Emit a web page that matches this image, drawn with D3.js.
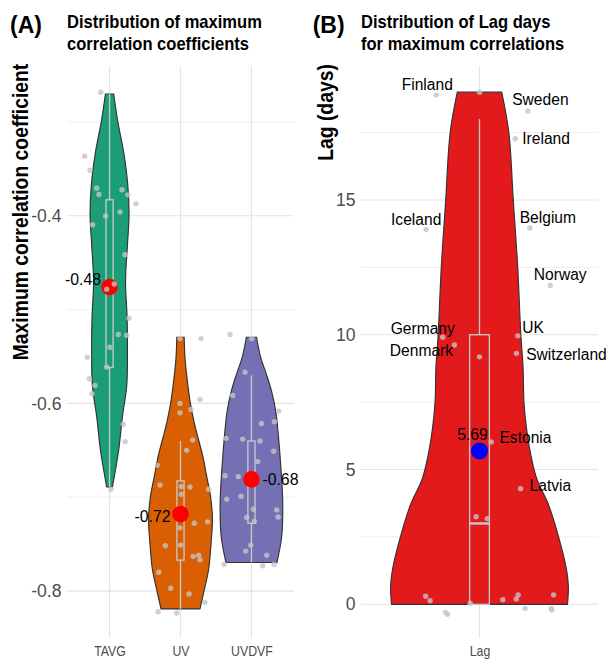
<!DOCTYPE html>
<html>
<head>
<meta charset="utf-8">
<script src="https://cdn.jsdelivr.net/npm/d3@7"></script>
<style>
  html, body { margin: 0; padding: 0; background: #fff; }
  svg { display: block; font-family: 'Liberation Sans', Arial, sans-serif; }
</style>
</head>
<body>
<svg id="chart" width="610" height="661"></svg>
<script>
// ---- data ----
const corrGroups = ['TAVG', 'UV', 'UVDVF'];
const corrTicks = [-0.8, -0.6, -0.4];
const corrMinorTicks = [-0.7, -0.5, -0.3];
const lagTicks = [0, 5, 10, 15];
const lagMinorTicks = [2.5, 7.5, 12.5, 17.5];

// violin outlines: [value, relative half width]
const tavgDensity = [[-0.2702, 0.13], [-0.30, 0.26], [-0.332, 0.44], [-0.367, 0.57], [-0.399, 0.61],
  [-0.431, 0.56], [-0.459, 0.51], [-0.473, 0.50], [-0.509, 0.55], [-0.544, 0.56], [-0.58, 0.54],
  [-0.615, 0.40], [-0.651, 0.28], [-0.689, 0.09]];
const uvDensity = [[-0.5295, 0.115], [-0.551, 0.14], [-0.569, 0.19], [-0.60, 0.31], [-0.622, 0.44],
  [-0.658, 0.71], [-0.676, 0.81], [-0.699, 0.94], [-0.723, 1.0], [-0.748, 0.96], [-0.777, 0.88],
  [-0.798, 0.75], [-0.819, 0.61]];
const uvdvfDensity = [[-0.5295, 0.16], [-0.551, 0.29], [-0.569, 0.47], [-0.587, 0.63], [-0.608, 0.76],
  [-0.633, 0.84], [-0.672, 0.93], [-0.706, 0.98], [-0.741, 0.95], [-0.7695, 0.80]];
const lagDensity = [[19.0, 0.25], [17.5, 0.33], [15, 0.38], [12.5, 0.43], [10, 0.465], [8.8, 0.49],
  [7.5, 0.50], [6.5, 0.53], [5.5, 0.58], [4.6, 0.65], [3.75, 0.77], [2.5, 0.89], [1.27, 0.98],
  [0.65, 1.0], [0, 0.99]];

// boxplot stats: [lower whisker, q1, median, q3, upper whisker]
const corrBoxes = [[-0.689, -0.5617, -0.47, -0.383, -0.270],
                   [-0.819, -0.767, -0.722, -0.6826, -0.640],
                   [-0.7695, -0.7277, -0.68, -0.640, -0.570]];
const lagBox = [0, 0, 3, 10, 18];

const corrMeans = [-0.476, -0.718, -0.681];
const lagMean = 5.69;

// jittered points: values and horizontal jitter (category units)
const tavgValues = [-0.2684, -0.3365, -0.3518, -0.3706, -0.3773, -0.3723, -0.3777, -0.3872, -0.3961,
  -0.4003, -0.4096, -0.4415, -0.4784, -0.4727, -0.5093, -0.5266, -0.5273, -0.5401, -0.5507, -0.5613,
  -0.5737, -0.5809, -0.5897, -0.6223, -0.6407, -0.6915];
const tavgJitter = [-0.125, -0.351, -0.276, -0.182, -0.149, 0.175, 0.259, 0.372, 0.147, -0.055, -0.238,
  0.217, -0.041, 0.066, 0.273, 0.123, 0.241, 0.006, -0.314, -0.041, -0.286, -0.206, -0.248, 0.193,
  0.221, 0.02];
const uvValues = [-0.5309, -0.5309, -0.600, -0.6099, -0.6064, -0.5957, -0.639, -0.650, -0.666, -0.687,
  -0.6886, -0.689, -0.6968, -0.6915, -0.7277, -0.7262, -0.7326, -0.7517, -0.751, -0.763, -0.7617,
  -0.7667, -0.780, -0.797, -0.803, -0.812, -0.822, -0.8234];
const uvJitter = [-0.007, 0.289, -0.007, -0.007, 0.148, 0.275, 0.172, 0.087, -0.327, -0.289, 0.011,
  0.134, 0.011, 0.398, 0.195, 0.383, -0.007, -0.214, 0.003, 0.18, 0.257, 0.275, -0.307, -0.138, 0.12,
  0.345, -0.317, -0.054];
const uvdvfValues = [-0.5266, -0.5309, -0.5667, -0.5915, -0.6082, -0.6213, -0.6195, -0.6372, -0.638,
  -0.640, -0.651, -0.662, -0.677, -0.678, -0.702, -0.699, -0.7128, -0.7135, -0.721, -0.7216, -0.7259,
  -0.751, -0.7574, -0.7617, -0.7716, -0.773, -0.7716];
const uvdvfJitter = [-0.302, 0.004, -0.09, -0.264, 0.385, 0.14, 0.323, -0.358, -0.123, 0.121, 0.314,
  0.089, -0.372, -0.185, -0.348, -0.147, 0.027, 0.357, 0.375, -0.066, 0.041, -0.01, -0.08, 0.216,
  -0.386, 0.159, 0.319];

const lagCountries = ['Finland', '', 'Sweden', 'Ireland', 'Iceland', 'Belgium', 'Norway', 'Germany',
  'Denmark', 'UK', 'Switzerland', '', 'Estonia', 'Latvia', '', '', '', '', '', '', '', '', '', '', '', '', '', ''];
const lagValues = [18.89, 19.0, 18.3, 17.27, 13.9, 13.96, 11.83, 9.91, 9.62, 9.96, 9.31, 9.18, 6.02, 4.29,
  3.25, 3.18, 0.3, 0.13, -0.3, -0.37, 0.04, 0.17, 0.2, 0.35, -0.15, -0.15, -0.21, 0.35];
const lagJitter = [-0.219, 0, 0.245, 0.181, -0.27, 0.255, 0.358, -0.186, -0.127, 0.194, 0.187, 0, 0.059,
  0.208, -0.017, 0.039, -0.273, -0.25, -0.172, -0.162, -0.047, 0.118, 0.186, 0.196, 0.231, 0.363, 0.366, 0.375];

// ---- layout / style ----
const fills = ['#1b9e77', '#d95f02', '#7570b3'];
const lagFill = '#e31a1c';
const gridColor = '#e3e3e3';
const boxColor = '#cbcbcb';
const pointColor = '#c4c4c4';
const panelTop = 66, panelBottom = 638;

// label placement relative to point (ggrepel-like)
const lagLabelLayout = {
  Finland: [-9, -5, 'middle'], Sweden: [12.5, -6, 'middle'], Ireland: [7, 5.3, 'start'],
  Iceland: [-10, -4.3, 'middle'], Belgium: [18, -5.3, 'middle'], Norway: [10, -5.7, 'middle'],
  Germany: [-20, -3.3, 'middle'], Denmark: [-33, 10.7, 'middle'], UK: [4.4, -3, 'start'],
  Switzerland: [9.7, 6.3, 'start'], Estonia: [8.3, 1, 'start'], Latvia: [9, 2, 'start']
};
const meanLabelLayout = [[-8.5, -2, 'end'], [-10, 8, 'end'], [11, 6, 'start']];

const svg = d3.select('#chart');

const drawGrid = (g, x, y, majors, minors, x0, x1) => {
  g.selectAll('line.minor').data(minors).enter().append('line')
    .attr('x1', x0).attr('x2', x1).attr('y1', d => y(d)).attr('y2', d => y(d))
    .attr('stroke', gridColor).attr('stroke-width', 0.6);
  g.selectAll('line.major').data(majors).enter().append('line')
    .attr('x1', x0).attr('x2', x1).attr('y1', d => y(d)).attr('y2', d => y(d))
    .attr('stroke', gridColor).attr('stroke-width', 1.1);
  g.selectAll('line.vgrid').data(x.domain()).enter().append('line')
    .attr('x1', d => x(d)).attr('x2', d => x(d)).attr('y1', panelTop).attr('y2', panelBottom)
    .attr('stroke', gridColor).attr('stroke-width', 1.1);
};

const drawAxes = (g, x, y, ticks, fmt, x0) => {
  const yAxis = g.append('g').attr('transform', `translate(${x0},0)`)
    .call(d3.axisLeft(y).tickValues(ticks).tickSize(0).tickPadding(5.5).tickFormat(fmt));
  yAxis.select('.domain').remove();
  yAxis.selectAll('text').attr('font-size', 17.6).attr('fill', '#4d4d4d')
    .attr('font-family', "'Liberation Sans', Arial, sans-serif");
  const xAxis = g.append('g').attr('transform', `translate(0,${panelBottom})`)
    .call(d3.axisBottom(x).tickSize(0).tickPadding(8.5));
  xAxis.select('.domain').remove();
  // slightly condensed labels, as in the reference
  xAxis.selectAll('.tick text').attr('font-size', 14).attr('fill', '#4d4d4d')
    .attr('font-family', "'Liberation Sans', Arial, sans-serif")
    .attr('transform', 'scale(0.88,1)');
};

const violinArea = (y, cx, half) => d3.area()
  .curve(d3.curveCatmullRom.alpha(0.5))
  .y(d => y(d[0]))
  .x0(d => cx - d[1] * half)
  .x1(d => cx + d[1] * half);

const drawBox = (g, y, cx, halfBox, stats) => {
  const [lo, q1, med, q3, hi] = stats;
  g.append('line').attr('x1', cx).attr('x2', cx).attr('y1', y(hi)).attr('y2', y(q3))
    .attr('stroke', boxColor).attr('stroke-width', 1.3);
  g.append('line').attr('x1', cx).attr('x2', cx).attr('y1', y(q1)).attr('y2', y(lo))
    .attr('stroke', boxColor).attr('stroke-width', 1.3);
  g.append('rect').attr('x', cx - halfBox).attr('width', halfBox * 2)
    .attr('y', y(q3)).attr('height', y(q1) - y(q3))
    .attr('fill', 'none').attr('stroke', boxColor).attr('stroke-width', 1.3);
  g.append('line').attr('x1', cx - halfBox).attr('x2', cx + halfBox).attr('y1', y(med)).attr('y2', y(med))
    .attr('stroke', boxColor).attr('stroke-width', 2.4);
};

const drawPoints = (g, y, cx, step, values, jitter) => {
  g.selectAll(null).data(values).enter().append('circle')
    .attr('cx', (d, i) => cx + jitter[i] * step)
    .attr('cy', d => y(d))
    .attr('r', 2.7)
    .attr('fill', pointColor)
    .attr('opacity', 0.8);
};

const boldText = (x, y, text, size, rotate, squeeze) => {
  const g = svg.append('g')
    .attr('transform', `translate(${x},${y})${rotate ? ' rotate(-90)' : ''} scale(${squeeze},1)`);
  g.append('text').attr('font-size', size).attr('font-weight', 'bold').attr('fill', '#000')
    .attr('text-anchor', rotate ? 'middle' : 'start').text(text);
};

// ---- panel A ----
const xA = d3.scalePoint().domain(corrGroups).range([67, 294]).padding(0.6);
const yA = d3.scaleLinear().domain([-0.85, -0.2404]).range([panelBottom, panelTop]);
const stepA = xA.step();
const gA = svg.append('g');
drawGrid(gA, xA, yA, corrTicks, corrMinorTicks, 67, 294);
drawAxes(gA, xA, yA, corrTicks, d => d.toFixed(1), 67);

const corrDensities = [tavgDensity, uvDensity, uvdvfDensity];
const corrValues = [tavgValues, uvValues, uvdvfValues];
const corrJitter = [tavgJitter, uvJitter, uvdvfJitter];

corrGroups.forEach((grp, i) => {
  const cx = xA(grp);
  gA.append('path').datum(corrDensities[i])
    .attr('d', violinArea(yA, cx, stepA * 0.45))
    .attr('fill', fills[i]).attr('stroke', '#333').attr('stroke-width', 1.15);
  drawBox(gA, yA, cx, stepA * 0.05, corrBoxes[i]);
});
corrGroups.forEach((grp, i) => {
  const cx = xA(grp);
  gA.append('circle').attr('cx', cx).attr('cy', yA(corrMeans[i])).attr('r', 8.3).attr('fill', '#ff0000');
  drawPoints(gA, yA, cx, stepA, corrValues[i], corrJitter[i]);
  const [dx, dy, anchor] = meanLabelLayout[i];
  gA.append('text').attr('x', cx + dx).attr('y', yA(corrMeans[i]) + dy)
    .attr('text-anchor', anchor).attr('font-size', 15.8).attr('fill', '#000')
    .text(corrMeans[i].toFixed(2));
});

// ---- panel B ----
const xB = d3.scalePoint().domain(['Lag']).range([361, 598]).padding(0.6);
const yB = d3.scaleLinear().domain([-1.25, 19.97]).range([panelBottom, panelTop]);
const stepB = xB.step();
const gB = svg.append('g');
drawGrid(gB, xB, yB, lagTicks, lagMinorTicks, 361, 598);
drawAxes(gB, xB, yB, lagTicks, d => String(d), 361);

const cxB = xB('Lag');
gB.append('path').datum(lagDensity)
  .attr('d', violinArea(yB, cxB, stepB * 0.45))
  .attr('fill', lagFill).attr('stroke', '#333').attr('stroke-width', 1.15);
drawBox(gB, yB, cxB, stepB * 0.05, lagBox);
gB.append('circle').attr('cx', cxB).attr('cy', yB(lagMean)).attr('r', 8.5).attr('fill', '#0000ff');
drawPoints(gB, yB, cxB, stepB, lagValues, lagJitter);
gB.append('text').attr('x', cxB - 7).attr('y', yB(lagMean) - 10.5)
  .attr('text-anchor', 'middle').attr('font-size', 15.8).attr('fill', '#000')
  .text(lagMean.toFixed(2));

lagCountries.forEach((name, i) => {
  if (!name) return;
  const [dx, dy, anchor] = lagLabelLayout[name];
  gB.append('text')
    .attr('x', cxB + lagJitter[i] * stepB + dx)
    .attr('y', yB(lagValues[i]) + dy)
    .attr('text-anchor', anchor).attr('font-size', 15.6).attr('fill', '#000')
    .text(name);
});

// ---- titles ----
boldText(10, 33, '(A)', 23, false, 1);
boldText(312.7, 33, '(B)', 23, false, 1);
boldText(67, 28.3, 'Distribution of maximum', 18, false, 0.92);
boldText(67, 50, 'correlation coefficients', 18, false, 0.92);
boldText(361, 28.3, 'Distribution of Lag days', 18, false, 0.92);
boldText(361, 50, 'for maximum correlations', 18, false, 0.92);
boldText(28.3, 212, 'Maximum correlation coefficient', 21.5, true, 0.9);
boldText(333.3, 112.5, 'Lag (days)', 21.5, true, 0.9);
</script>
</body>
</html>
